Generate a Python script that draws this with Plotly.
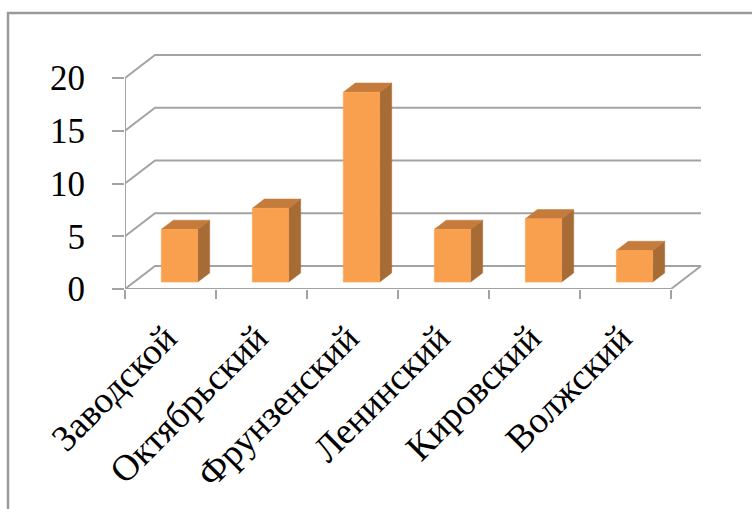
import plotly.graph_objects as go

# ---- data ----
categories = ["Заводской", "Октябрьский", "Фрунзенский", "Ленинский", "Кировский", "Волжский"]
values = [5, 7, 18, 5, 6, 3]
y_ticks = [0, 5, 10, 15, 20]

# ---- geometry (in data units) ----
DX = 30 / 91.0      # depth offset along x (category units)
DY = 23 / 10.55     # depth offset along y (value units)
HALF = 0.2          # half bar width (category units)
D0, D1 = 0.3, 0.7   # bar depth range (fraction of floor depth)
LABEL_SHIFT = -0.05 # small label offset (category units)
N = len(categories)

FRONT = "#F9A04F"
SIDE = "#A76C36"
TOP = "#C47B3B"
GRID = "#A3A3A3"

L, W = 125, 600
T, B = 40, 220
H = 509 - T - B

fig = go.Figure()

def P(x, y, d):
    return x + d * DX, y + d * DY

# gridlines: side wall diagonals + back wall lines
gx, gy = [], []
for t in y_ticks:
    x0, y0 = P(0, t, 0)
    x1, y1 = P(0, t, 1)
    x2, y2 = P(N, t, 1)
    gx += [x0, x1, x2, None]
    gy += [y0, y1, y2, None]
# floor front edge + right edge
fx0, fy0 = P(0, 0, 0)
fx1, fy1 = P(N, 0, 0)
fx2, fy2 = P(N, 0, 1)
gx += [fx0, fx1, fx2, None]
gy += [fy0, fy1, fy2, None]
# front vertical axis
gx += [0, 0, None]
gy += [0, y_ticks[-1], None]
fig.add_trace(go.Scatter(x=gx, y=gy, mode="lines", line=dict(color=GRID, width=2),
                         hoverinfo="skip", showlegend=False))

# bars
for i, v in enumerate(values):
    c = i + 0.5
    xl, xr = c - HALF, c + HALF
    # side face
    pts = [P(xr, 0, D0), P(xr, v, D0), P(xr, v, D1), P(xr, 0, D1)]
    fig.add_trace(go.Scatter(x=[p[0] for p in pts] + [pts[0][0]], y=[p[1] for p in pts] + [pts[0][1]],
                             mode="lines", fill="toself", fillcolor=SIDE, line=dict(color=SIDE, width=0.5),
                             hoverinfo="skip", showlegend=False))
    # top face
    pts = [P(xl, v, D0), P(xr, v, D0), P(xr, v, D1), P(xl, v, D1)]
    fig.add_trace(go.Scatter(x=[p[0] for p in pts] + [pts[0][0]], y=[p[1] for p in pts] + [pts[0][1]],
                             mode="lines", fill="toself", fillcolor=TOP, line=dict(color=TOP, width=0.5),
                             hoverinfo="skip", showlegend=False))
    # front face
    pts = [P(xl, 0, D0), P(xr, 0, D0), P(xr, v, D0), P(xl, v, D0)]
    fig.add_trace(go.Scatter(x=[p[0] for p in pts] + [pts[0][0]], y=[p[1] for p in pts] + [pts[0][1]],
                             mode="lines", fill="toself", fillcolor=FRONT, line=dict(color=FRONT, width=0.5),
                             hoverinfo="skip", showlegend=False))

font = dict(family="Liberation Serif, Times New Roman, serif", color="black")

fig.update_layout(
    width=752, height=509,
    margin=dict(l=L, r=752 - L - W, t=T, b=B),
    paper_bgcolor="white", plot_bgcolor="white",
    xaxis=dict(range=[0, W / 91.0], showgrid=False, zeroline=False, showline=False,
               tickmode="array", tickvals=[i + 0.5 + LABEL_SHIFT for i in range(N)], ticktext=categories,
               ticks="", tickangle=-45, tickfont=dict(size=37, **font), ticklabelstandoff=19,
               minor=dict(tickmode="array", tickvals=list(range(N + 1)), ticks="outside",
                          ticklen=9, tickwidth=2, tickcolor=GRID, showgrid=False),
               fixedrange=True),
    yaxis=dict(range=[0, H / 10.55], showgrid=False, zeroline=False, showline=False,
               tickmode="array", tickvals=y_ticks, ticks="outside", ticklen=12, tickwidth=2,
               tickcolor=GRID, tickfont=dict(size=35, **font), ticklabelstandoff=20,
               fixedrange=True),
    shapes=[dict(type="rect", xref="paper", yref="paper",
                 x0=(8 - L) / W, x1=1.5, y0=-2, y1=(289 - 13) / H,
                 line=dict(color="#9A9A9A", width=2.5))],
    showlegend=False,
)

fig.write_html("out.html")
